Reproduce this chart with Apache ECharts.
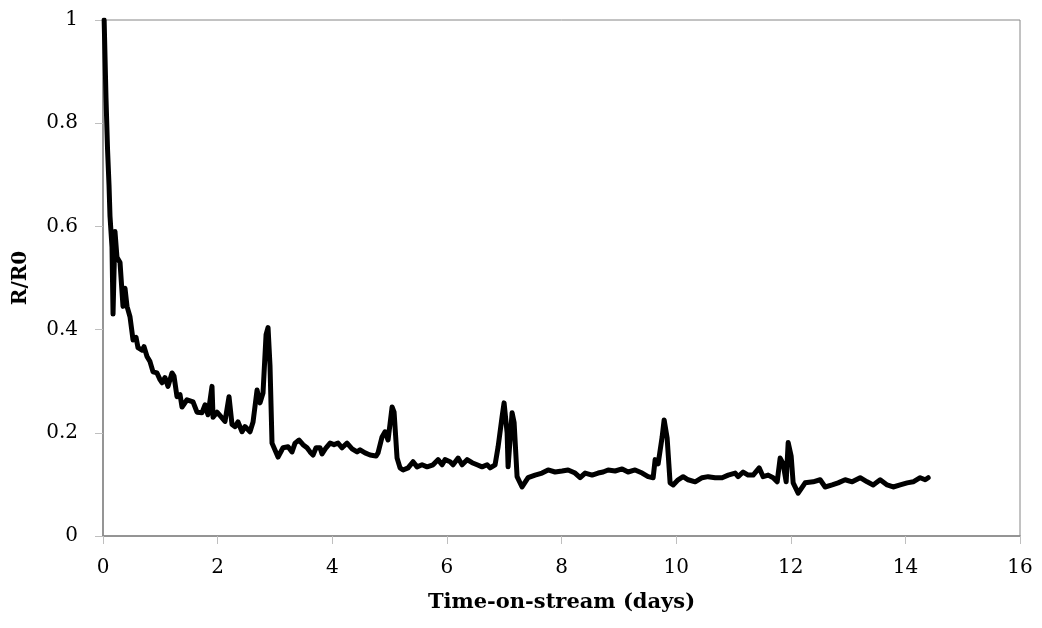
<!DOCTYPE html>
<html>
<head>
<meta charset="utf-8">
<script src="https://cdn.jsdelivr.net/npm/echarts@6/dist/echarts.min.js"></script>
<style>html,body{margin:0;padding:0;background:#fff;}#c{width:1042px;height:628px;}</style>
</head>
<body>
<div id="c"></div>
<script>
const days = [0.02,0.035,0.052,0.079,0.105,0.122,0.157,0.175,0.209,0.244,0.297,0.349,0.384,0.419,0.471,0.524,0.576,0.611,0.681,0.716,0.768,0.820,0.873,0.942,0.995,1.030,1.082,1.134,1.204,1.239,1.291,1.344,1.379,1.466,1.571,1.640,1.728,1.780,1.832,1.902,1.920,1.990,2.077,2.129,2.199,2.251,2.304,2.356,2.426,2.478,2.565,2.618,2.688,2.740,2.792,2.845,2.880,2.914,2.949,
  2.967,3.054,3.141,3.229,3.298,3.351,3.421,3.490,3.560,3.613,3.665,3.717,3.787,3.822,3.892,3.962,4.031,4.101,4.171,4.258,4.346,4.433,4.485,4.572,4.660,4.764,4.799,4.869,4.921,4.974,5.044,5.079,5.131,5.183,5.236,5.323,5.410,5.480,5.567,5.654,5.759,5.846,5.916,5.969,6.056,6.108,6.196,6.265,6.353,6.440,6.527,6.614,6.702,6.754,6.841,6.894,6.963,6.998,7.051,7.068,7.138,7.173,7.225,
  7.312,7.417,7.539,7.661,7.766,7.888,8.010,8.115,8.237,8.325,8.412,8.534,8.639,8.726,8.813,8.935,9.058,9.162,9.284,9.407,9.511,9.599,9.634,9.686,9.756,9.791,9.843,9.895,9.948,10.035,10.122,10.209,10.332,10.454,10.558,10.681,10.803,10.908,11.030,11.082,11.169,11.257,11.344,11.449,11.518,11.606,11.693,11.763,11.815,11.867,11.920,11.955,12.007,12.042,12.129,12.251,12.391,12.513,12.600,12.723,12.827,12.949,13.072,13.211,13.333,13.438,13.560,13.682,13.787,13.909,14.031,14.136,14.258,14.346,14.398];
const ratio = [1.0,1.0,0.85,0.75,0.68,0.62,0.56,0.43,0.59,0.54,0.53,0.445,0.48,0.445,0.425,0.38,0.385,0.365,0.36,0.367,0.348,0.338,0.318,0.316,0.303,0.297,0.307,0.29,0.316,0.31,0.27,0.274,0.25,0.264,0.26,0.24,0.239,0.254,0.235,0.29,0.23,0.24,0.229,0.222,0.27,0.216,0.212,0.221,0.202,0.212,0.202,0.221,0.283,0.258,0.277,0.39,0.404,0.33,0.18,
  0.183,0.153,0.171,0.173,0.163,0.18,0.186,0.177,0.171,0.163,0.157,0.171,0.171,0.159,0.171,0.18,0.177,0.18,0.171,0.18,0.169,0.163,0.167,0.161,0.157,0.155,0.161,0.192,0.202,0.186,0.25,0.24,0.151,0.132,0.128,0.132,0.144,0.134,0.138,0.134,0.138,0.148,0.138,0.148,0.144,0.138,0.151,0.138,0.148,0.142,0.138,0.134,0.138,0.132,0.138,0.173,0.231,0.258,0.2,0.134,0.239,0.22,0.115,
  0.095,0.113,0.118,0.122,0.128,0.124,0.126,0.128,0.122,0.113,0.122,0.118,0.122,0.124,0.128,0.126,0.13,0.124,0.128,0.122,0.115,0.113,0.148,0.14,0.192,0.225,0.19,0.103,0.099,0.109,0.115,0.109,0.105,0.113,0.115,0.113,0.113,0.118,0.122,0.115,0.124,0.118,0.118,0.132,0.115,0.118,0.113,0.105,0.151,0.14,0.105,0.181,0.155,0.103,0.083,0.103,0.105,0.109,0.095,0.099,0.103,0.109,0.105,0.113,0.105,0.099,0.109,0.099,0.095,0.099,0.103,0.105,0.113,0.109,0.113];
const xTitle = 'Time-on-stream (days)';
const yTitle = 'R/R0';

const points = days.map((d, i) => [d, ratio[i]]);
const chart = echarts.init(document.getElementById('c'));
const font = 'DejaVu Serif';
chart.setOption({
  animation: false,
  grid: {left: 103, right: 22, top: 20, bottom: 92, show: true, borderColor: '#868686', borderWidth: 1},
  xAxis: {
    type: 'value', min: 0, max: 16, interval: 2,
    name: xTitle, nameLocation: 'middle', nameGap: 56,
    nameTextStyle: {fontFamily: font, fontWeight: 'bold', fontSize: 21, color: '#000'},
    axisLine: {show: true, lineStyle: {color: '#868686', width: 1.5}},
    axisTick: {show: true, length: 8, inside: false, lineStyle: {color: '#bfbfbf'}},
    axisLabel: {fontFamily: font, fontSize: 20, color: '#000', margin: 22},
    splitLine: {show: false}
  },
  yAxis: {
    type: 'value', min: 0, max: 1, interval: 0.2,
    name: yTitle, nameLocation: 'middle', nameGap: 72,
    nameTextStyle: {fontFamily: font, fontWeight: 'bold', fontSize: 20, color: '#000'},
    axisLine: {show: true, lineStyle: {color: '#868686', width: 1.5}},
    axisTick: {show: true, length: 8, inside: false, lineStyle: {color: '#bfbfbf'}},
    axisLabel: {fontFamily: font, fontSize: 20, color: '#000', margin: 25},
    splitLine: {show: false}
  },
  series: [{
    type: 'line', data: points, showSymbol: false, symbol: 'none',
    lineStyle: {color: '#000', width: 5, join: 'round', cap: 'round'},
    clip: true
  }]
});
</script>
</body>
</html>
